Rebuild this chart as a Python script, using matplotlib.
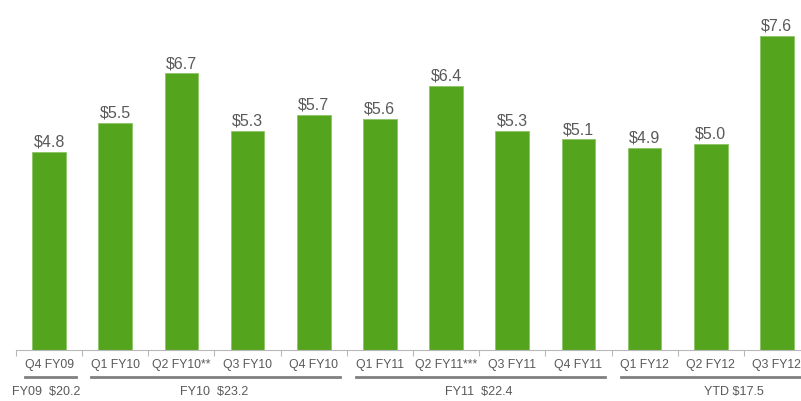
import matplotlib.pyplot as plt

quarters = ["Q4 FY09", "Q1 FY10", "Q2 FY10**", "Q3 FY10", "Q4 FY10", "Q1 FY11",
            "Q2 FY11***", "Q3 FY11", "Q4 FY11", "Q1 FY12", "Q2 FY12", "Q3 FY12"]
revenue = [4.8, 5.5, 6.7, 5.3, 5.7, 5.6, 6.4, 5.3, 5.1, 4.9, 5.0, 7.6]

# fiscal year groups: label, first quarter index, last quarter index
groups = ["FY09  $20.2", "FY10  $23.2", "FY11  $22.4", "YTD $17.5"]
group_start = [0, 1, 5, 9]
group_end = [0, 4, 8, 11]

plt.rcParams['font.family'] = ['Liberation Sans', 'DejaVu Sans']
green = '#55a41e'
grey = '#595959'

fig = plt.figure(figsize=(8.01, 4.02), dpi=100)
# axes run past the right edge of the figure, like the original slide
ax = fig.add_axes([16 / 801, 51 / 402, 794 / 801, 351 / 402])
ax.set_xlim(-0.5, 11.5)
ax.set_ylim(0, 8.5)

x = list(range(len(quarters)))
ax.bar(x, revenue, width=0.51, color=green, edgecolor='#8cc466', linewidth=0.6)
for xi, v in zip(x, revenue):
    ax.text(xi, v + 0.08, "$%.1f" % v, ha='center', va='bottom', fontsize=11.5, color=grey)

for s in ['top', 'right', 'left']:
    ax.spines[s].set_visible(False)
ax.spines['bottom'].set_color('#b8b8b8')
ax.set_yticks([])
ax.set_xticks([i - 0.5 for i in range(len(quarters) + 1)])
ax.set_xticklabels([])
ax.tick_params(axis='x', length=4, color='#b8b8b8')

for xi, q in zip(x, quarters):
    ax.text(xi, -0.35, q, ha='center', va='center', fontsize=8.8, color=grey, clip_on=False)

for label, a, b in zip(groups, group_start, group_end):
    lo, hi = a - 0.36, b + 0.4
    if b == len(quarters) - 1:
        hi = b + 0.8
    ax.plot([lo, hi], [-0.65, -0.65], color='#808080', lw=2, clip_on=False)
    mid = (a + b) / 2
    if b == len(quarters) - 1:
        mid = a + 1.35
    if a == 0:
        mid = -0.05
    if a == 5:
        mid = 6.5
    ax.text(mid, -1.0, label, ha='center', va='center', fontsize=9, color=grey, clip_on=False)

fig.savefig("out.png", dpi=100)
